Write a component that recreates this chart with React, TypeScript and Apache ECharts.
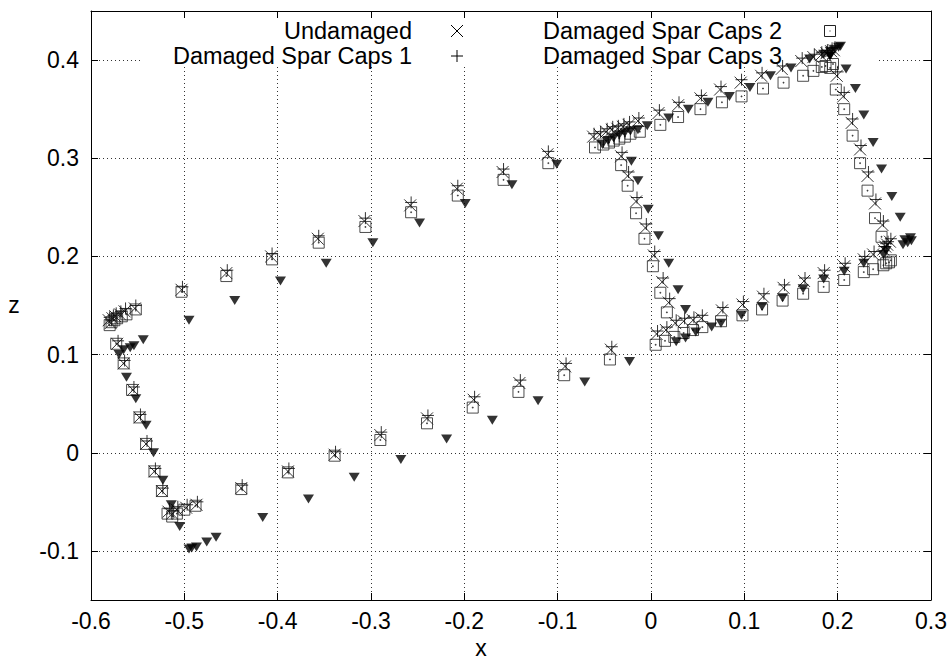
import React, { useEffect, useRef } from 'react';
import * as echarts from 'echarts';

const FONT = '"Liberation Sans", Arial, Helvetica, sans-serif';

const seriesNames = ['Undamaged', 'Damaged Spar Caps 1', 'Damaged Spar Caps 2', 'Damaged Spar Caps 3'];

const undamaged: [number, number][] = [
  [-0.581, 0.135], [-0.579, 0.132], [-0.577, 0.137], [-0.574, 0.139], [-0.569, 0.141], [-0.564, 0.144], [-0.553, 0.147],
  [-0.503, 0.166], [-0.455, 0.183], [-0.407, 0.200], [-0.357, 0.218], [-0.307, 0.236], [-0.258, 0.252], [-0.208, 0.269], [-0.159, 0.286], [-0.111, 0.304],
  [-0.062, 0.322], [-0.055, 0.324], [-0.048, 0.327], [-0.042, 0.329], [-0.036, 0.330], [-0.030, 0.332], [-0.024, 0.334], [-0.014, 0.338],
  [0.008, 0.346], [0.029, 0.354], [0.053, 0.361], [0.074, 0.370], [0.096, 0.377], [0.118, 0.384], [0.140, 0.391], [0.161, 0.399], [0.174, 0.403], [0.182, 0.405], [0.188, 0.407], [0.193, 0.409], [0.196, 0.410],
  [0.199, 0.384], [0.206, 0.363], [0.215, 0.336], [0.224, 0.309], [0.232, 0.282], [0.240, 0.254], [0.248, 0.232],
  [0.256, 0.215], [0.253, 0.212], [0.251, 0.210], [0.249, 0.207],
  [0.238, 0.202], [0.228, 0.197], [0.207, 0.190], [0.185, 0.183], [0.164, 0.175], [0.142, 0.168], [0.120, 0.159], [0.098, 0.151], [0.076, 0.145], [0.054, 0.137], [0.045, 0.135], [0.035, 0.134], [0.026, 0.132], [0.016, 0.125], [0.006, 0.121],
  [0.019, 0.153], [0.012, 0.174], [0.003, 0.201], [-0.006, 0.229], [-0.016, 0.256], [-0.025, 0.282], [-0.032, 0.302],
  [-0.043, 0.105], [-0.092, 0.088], [-0.141, 0.071], [-0.190, 0.054], [-0.240, 0.035], [-0.290, 0.018], [-0.339, -0.002], [-0.389, -0.019], [-0.439, -0.036], [-0.487, -0.053], [-0.498, -0.056],
  [-0.508, -0.058], [-0.513, -0.062], [-0.517, -0.060],
  [-0.524, -0.039], [-0.532, -0.019], [-0.541, 0.009], [-0.548, 0.036], [-0.555, 0.064], [-0.565, 0.091], [-0.572, 0.111],
];

const damaged1: [number, number][] = [
  [-0.580, 0.138], [-0.578, 0.135], [-0.576, 0.140], [-0.573, 0.142], [-0.568, 0.144], [-0.563, 0.147], [-0.552, 0.150],
  [-0.502, 0.169], [-0.454, 0.186], [-0.406, 0.203], [-0.356, 0.221], [-0.306, 0.239], [-0.257, 0.255], [-0.207, 0.272], [-0.158, 0.289], [-0.110, 0.307],
  [-0.061, 0.325], [-0.054, 0.327], [-0.047, 0.330], [-0.041, 0.332], [-0.035, 0.333], [-0.029, 0.335], [-0.023, 0.337], [-0.013, 0.341],
  [0.009, 0.349], [0.030, 0.357], [0.054, 0.364], [0.075, 0.373], [0.097, 0.380], [0.119, 0.387], [0.141, 0.394], [0.162, 0.402], [0.175, 0.406], [0.183, 0.408], [0.189, 0.410], [0.194, 0.412], [0.197, 0.413],
  [0.200, 0.388], [0.207, 0.367], [0.216, 0.340], [0.225, 0.313], [0.233, 0.286], [0.241, 0.258], [0.249, 0.236],
  [0.257, 0.218], [0.254, 0.215], [0.252, 0.213], [0.250, 0.210],
  [0.239, 0.205], [0.229, 0.200], [0.208, 0.193], [0.186, 0.186], [0.165, 0.178], [0.143, 0.171], [0.121, 0.162], [0.099, 0.154], [0.077, 0.148], [0.055, 0.140], [0.046, 0.138], [0.036, 0.137], [0.027, 0.135], [0.017, 0.128], [0.007, 0.124],
  [0.020, 0.157], [0.013, 0.178], [0.004, 0.205], [-0.005, 0.233], [-0.015, 0.260], [-0.024, 0.286], [-0.031, 0.306],
  [-0.042, 0.108], [-0.091, 0.091], [-0.140, 0.074], [-0.189, 0.057], [-0.239, 0.038], [-0.289, 0.021], [-0.338, 0.001], [-0.388, -0.016], [-0.438, -0.033], [-0.486, -0.050], [-0.497, -0.053],
  [-0.507, -0.055], [-0.512, -0.059], [-0.516, -0.057],
  [-0.523, -0.036], [-0.531, -0.016], [-0.540, 0.012], [-0.547, 0.039], [-0.554, 0.067], [-0.564, 0.094], [-0.571, 0.114],
];

const damaged2: [number, number][] = [
  [-0.580, 0.130], [-0.578, 0.133], [-0.575, 0.135], [-0.572, 0.137], [-0.567, 0.139], [-0.562, 0.141], [-0.552, 0.146],
  [-0.503, 0.164], [-0.455, 0.180], [-0.406, 0.197], [-0.356, 0.214], [-0.306, 0.230], [-0.257, 0.245], [-0.207, 0.262], [-0.158, 0.278], [-0.110, 0.295],
  [-0.060, 0.311], [-0.051, 0.314], [-0.045, 0.316], [-0.040, 0.318], [-0.034, 0.320], [-0.028, 0.322], [-0.022, 0.325], [-0.012, 0.327],
  [0.010, 0.334], [0.029, 0.342], [0.053, 0.350], [0.076, 0.357], [0.097, 0.363], [0.120, 0.371], [0.142, 0.377], [0.163, 0.384], [0.174, 0.389], [0.183, 0.393], [0.187, 0.394], [0.192, 0.392], [0.195, 0.396],
  [0.198, 0.370], [0.207, 0.350], [0.216, 0.323], [0.224, 0.295], [0.232, 0.267], [0.240, 0.239], [0.247, 0.220],
  [0.257, 0.196], [0.255, 0.194], [0.252, 0.193], [0.249, 0.191],
  [0.238, 0.187], [0.228, 0.184], [0.207, 0.176], [0.185, 0.169], [0.163, 0.162], [0.141, 0.155], [0.119, 0.146], [0.098, 0.140], [0.075, 0.134], [0.055, 0.128], [0.045, 0.125], [0.035, 0.122], [0.025, 0.118], [0.015, 0.114], [0.005, 0.110],
  [0.017, 0.143], [0.010, 0.163], [0.002, 0.190], [-0.007, 0.218], [-0.016, 0.244], [-0.025, 0.272], [-0.032, 0.293],
  [-0.044, 0.095], [-0.093, 0.079], [-0.142, 0.062], [-0.191, 0.046], [-0.240, 0.030], [-0.290, 0.013], [-0.339, -0.003], [-0.389, -0.020], [-0.439, -0.037], [-0.488, -0.054], [-0.500, -0.058],
  [-0.508, -0.062], [-0.513, -0.065], [-0.518, -0.062],
  [-0.524, -0.039], [-0.532, -0.019], [-0.541, 0.009], [-0.548, 0.036], [-0.556, 0.064], [-0.565, 0.091], [-0.573, 0.111],
];

const damaged3: [number, number][] = [
  [-0.570, 0.100], [-0.565, 0.105], [-0.558, 0.107], [-0.554, 0.109], [-0.544, 0.115],
  [-0.495, 0.135], [-0.446, 0.155], [-0.397, 0.175], [-0.348, 0.193], [-0.298, 0.214], [-0.248, 0.234], [-0.199, 0.254], [-0.149, 0.273], [-0.101, 0.294],
  [-0.052, 0.314], [-0.046, 0.318], [-0.040, 0.321], [-0.034, 0.324], [-0.028, 0.326], [-0.022, 0.328], [-0.014, 0.329], [-0.004, 0.333],
  [0.019, 0.341], [0.040, 0.350], [0.061, 0.357], [0.084, 0.363], [0.106, 0.372], [0.128, 0.384], [0.150, 0.392], [0.170, 0.401], [0.185, 0.406], [0.192, 0.409], [0.197, 0.411], [0.201, 0.413], [0.203, 0.414],
  [0.209, 0.391], [0.219, 0.371], [0.228, 0.344], [0.238, 0.316], [0.247, 0.289], [0.258, 0.261], [0.267, 0.240],
  [0.270, 0.212], [0.272, 0.217], [0.275, 0.214], [0.278, 0.219], [0.279, 0.216],
  [0.252, 0.206], [0.249, 0.202], [0.228, 0.193], [0.207, 0.185], [0.185, 0.177], [0.163, 0.167], [0.141, 0.158], [0.119, 0.149], [0.097, 0.140], [0.075, 0.132], [0.065, 0.128], [0.048, 0.123], [0.037, 0.117], [0.027, 0.113],
  [0.037, 0.146], [0.029, 0.166], [0.019, 0.193], [0.008, 0.221], [-0.003, 0.248], [-0.014, 0.277], [-0.021, 0.297],
  [-0.023, 0.093], [-0.071, 0.072], [-0.121, 0.053], [-0.170, 0.033], [-0.219, 0.014], [-0.268, -0.007], [-0.318, -0.025], [-0.367, -0.047], [-0.416, -0.066], [-0.466, -0.086], [-0.476, -0.091], [-0.487, -0.096], [-0.492, -0.097], [-0.495, -0.098],
  [-0.505, -0.075], [-0.514, -0.053], [-0.523, -0.028], [-0.533, 0.000], [-0.541, 0.028], [-0.552, 0.055], [-0.562, 0.077],
];

const X_MIN = -0.6, X_MAX = 0.3, X_STEP = 0.1;
const Z_MIN = -0.15, Z_MAX = 0.45;

const CROSS = 'path://M0,0L10,10M10,0L0,10';
const PLUS = 'path://M5,0L5,10M0,5L10,5';
const BOX = 'path://M0,0L10,0L10,10L0,10Z M4.6,4.6L5.4,4.6L5.4,5.4L4.6,5.4Z';

export default function App() {
  const ref = useRef<HTMLDivElement>(null);
  useEffect(() => {
    if (!ref.current) return;
    const chart = echarts.init(ref.current, null, { renderer: 'svg' });
    const axisText = { fontFamily: FONT, fontSize: 23, color: '#000' };
    const grid = { left: 91, right: 20, top: 11, bottom: 62 };
    const lineStyle = { color: '#000', width: 1 };
    const split = { show: true, lineStyle: { color: '#333', width: 1, type: [1, 3] as any } };
    const xBase = { type: 'value' as const, min: X_MIN, max: X_MAX, interval: X_STEP };
    const yBase = { type: 'value' as const, min: Z_MIN, max: Z_MAX, splitNumber: 6 };
    const leftX = 457, rightX = 830, row1 = 31, row2 = 56;
    const legendText = (text: string, x: number, y: number) => ({
      type: 'text', x, y, z: 5,
      style: { text, fill: '#000', font: `23.5px ${FONT}`, align: 'right', verticalAlign: 'middle' },
    });
    chart.setOption({
      animation: false,
      grid,
      xAxis: [
        {
          ...xBase, position: 'bottom',
          axisLine: { show: true, onZero: false, lineStyle },
          axisTick: { show: true, inside: true, length: 7, lineStyle },
          axisLabel: { ...axisText, margin: 9 },
          splitLine: split,
        },
        {
          ...xBase, position: 'top',
          axisLine: { show: true, onZero: false, lineStyle },
          axisTick: { show: true, inside: true, length: 7, lineStyle },
          axisLabel: { show: false },
          splitLine: { show: false },
        },
      ],
      yAxis: [
        {
          ...yBase, position: 'left',
          axisLine: { show: true, onZero: false, lineStyle },
          axisTick: { show: true, inside: true, length: 7, lineStyle },
          axisLabel: { ...axisText, margin: 12, showMinLabel: false, showMaxLabel: false },
          splitLine: split,
        },
        {
          ...yBase, position: 'right',
          axisLine: { show: true, onZero: false, lineStyle },
          axisTick: { show: true, inside: true, length: 7, lineStyle },
          axisLabel: { show: false },
          splitLine: { show: false },
        },
      ],
      graphic: [
        { type: 'rect', z: 1, shape: { x: 140, y: 19, width: 737, height: 48 }, style: { fill: '#fff' } },
        legendText(seriesNames[0], 412, row1),
        legendText(seriesNames[1], 412, row2),
        legendText(seriesNames[2], 782, row1),
        legendText(seriesNames[3], 782, row2),
        { type: 'line', z: 5, shape: { x1: leftX - 6, y1: row1 - 6, x2: leftX + 6, y2: row1 + 6 }, style: { stroke: '#000', lineWidth: 1 } },
        { type: 'line', z: 5, shape: { x1: leftX - 6, y1: row1 + 6, x2: leftX + 6, y2: row1 - 6 }, style: { stroke: '#000', lineWidth: 1 } },
        { type: 'line', z: 5, shape: { x1: leftX - 6, y1: row2, x2: leftX + 6, y2: row2 }, style: { stroke: '#000', lineWidth: 1 } },
        { type: 'line', z: 5, shape: { x1: leftX, y1: row2 - 6, x2: leftX, y2: row2 + 6 }, style: { stroke: '#000', lineWidth: 1 } },
        { type: 'rect', z: 5, shape: { x: rightX - 5.5, y: row1 - 5.5, width: 11, height: 11 }, style: { fill: 'none', stroke: '#222', lineWidth: 1 } },
        { type: 'rect', z: 5, shape: { x: rightX - 0.5, y: row1 - 0.5, width: 1, height: 1 }, style: { fill: '#222' } },
        { type: 'polygon', z: 5, shape: { points: [[rightX - 5.5, row2 - 4.5], [rightX + 5.5, row2 - 4.5], [rightX, row2 + 4.5]] }, style: { fill: '#000' } },
        { type: 'text', x: 481, y: 648, z: 5, style: { text: 'x', fill: '#000', font: `23px ${FONT}`, align: 'center', verticalAlign: 'middle' } },
        { type: 'text', x: 14, y: 305, z: 5, style: { text: 'z', fill: '#000', font: `23px ${FONT}`, align: 'center', verticalAlign: 'middle' } },
      ],
      series: [
        {
          name: seriesNames[0], type: 'scatter', data: undamaged, symbol: CROSS, symbolSize: 12, z: 3,
          itemStyle: { color: 'transparent', borderColor: '#000', borderWidth: 1 },
        },
        {
          name: seriesNames[1], type: 'scatter', data: damaged1, symbol: PLUS, symbolSize: 12, z: 3,
          itemStyle: { color: 'transparent', borderColor: '#000', borderWidth: 1 },
        },
        {
          name: seriesNames[2], type: 'scatter', data: damaged2, symbol: BOX, symbolSize: 11, z: 3,
          itemStyle: { color: 'transparent', borderColor: '#222', borderWidth: 1 },
        },
        {
          name: seriesNames[3], type: 'scatter', data: damaged3, symbol: 'triangle', symbolRotate: 180, symbolSize: [11, 9], z: 3,
          itemStyle: { color: '#000' },
        },
      ],
    });
    return () => chart.dispose();
  }, []);
  return <div ref={ref} style={{ position: 'fixed', left: 0, top: 0, width: 951, height: 662, background: '#fff' }} />;
}
